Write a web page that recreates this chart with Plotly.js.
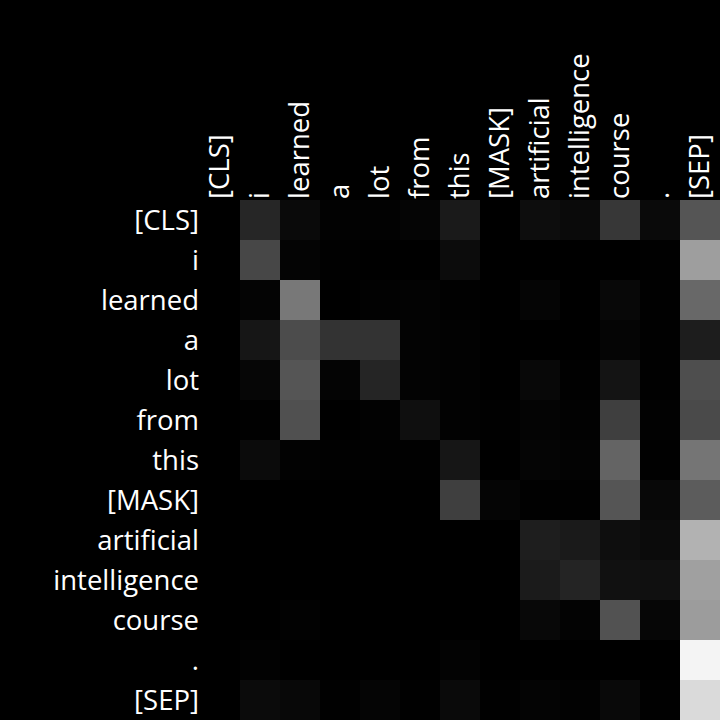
<!DOCTYPE html>
<html>
<head>
<meta charset="utf-8">
<script src="https://cdn.plot.ly/plotly-3.0.1.min.js"></script>
<style>html,body{margin:0;padding:0;background:#000;}#chart{width:720px;height:720px;}</style>
</head>
<body>
<div id="chart"></div>
<script>
var tokens = ["[CLS]","i","learned","a","lot","from","this","[MASK]","artificial","intelligence","course",".","[SEP]"];
// attention intensity per row (query token) over columns (key tokens), 0..255 gray scale
var rowCLS   = [0, 38, 10, 2, 2, 5, 26, 0, 13, 10, 55, 10, 85];
var rowI     = [0, 71, 4, 1, 0, 0, 12, 0, 0, 0, 0, 1, 158];
var rowLearn = [0, 4, 120, 0, 2, 3, 1, 0, 5, 0, 8, 1, 104];
var rowA     = [0, 22, 76, 51, 51, 3, 2, 0, 0, 0, 5, 1, 29];
var rowLot   = [0, 6, 85, 4, 37, 3, 2, 0, 8, 1, 20, 1, 78];
var rowFrom  = [0, 1, 80, 0, 2, 15, 2, 1, 4, 2, 63, 2, 74];
var rowThis  = [0, 11, 2, 1, 1, 1, 22, 0, 5, 3, 100, 1, 117];
var rowMask  = [0, 0, 0, 0, 0, 0, 63, 5, 1, 1, 85, 8, 92];
var rowArt   = [0, 0, 0, 0, 0, 0, 0, 0, 30, 26, 14, 11, 178];
var rowInt   = [0, 0, 0, 0, 0, 0, 0, 0, 27, 36, 17, 16, 160];
var rowCourse= [0, 0, 2, 0, 0, 0, 0, 0, 8, 3, 82, 6, 156];
var rowDot   = [0, 2, 0, 0, 0, 0, 3, 0, 0, 0, 0, 0, 244];
var rowSEP   = [0, 11, 8, 1, 5, 1, 10, 1, 4, 2, 9, 1, 218];

var z = [rowCLS,rowI,rowLearn,rowA,rowLot,rowFrom,rowThis,rowMask,rowArt,rowInt,rowCourse,rowDot,rowSEP];

var idx = tokens.map(function(t,i){return i;});

var data = [{
  type: 'heatmap',
  x: idx,
  y: idx,
  z: z,
  zmin: 0, zmax: 255,
  colorscale: [[0,'#000000'],[1,'#ffffff']],
  showscale: false,
  xgap: 0, ygap: 0
}];

var fontSpec = {family: '"Open Sans", "Noto Sans", sans-serif', size: 27.5, color: '#ffffff'};

var layout = {
  width: 720, height: 720,
  paper_bgcolor: '#000000',
  plot_bgcolor: '#000000',
  margin: {l: 200, r: 0, t: 200, b: 0, pad: 0},
  xaxis: {
    side: 'top', tickmode: 'array', tickvals: idx, ticktext: tokens,
    tickangle: -90, tickfont: fontSpec, showgrid: false, zeroline: false,
    showline: false, ticks: '', range: [-0.5, 12.5]
  },
  yaxis: {
    tickmode: 'array', tickvals: idx, ticktext: tokens,
    tickfont: fontSpec, showgrid: false, zeroline: false,
    showline: false, ticks: '', range: [12.5, -0.5]
  }
};

Plotly.newPlot('chart', data, layout, {displayModeBar: false, staticPlot: true});
</script>
</body>
</html>
